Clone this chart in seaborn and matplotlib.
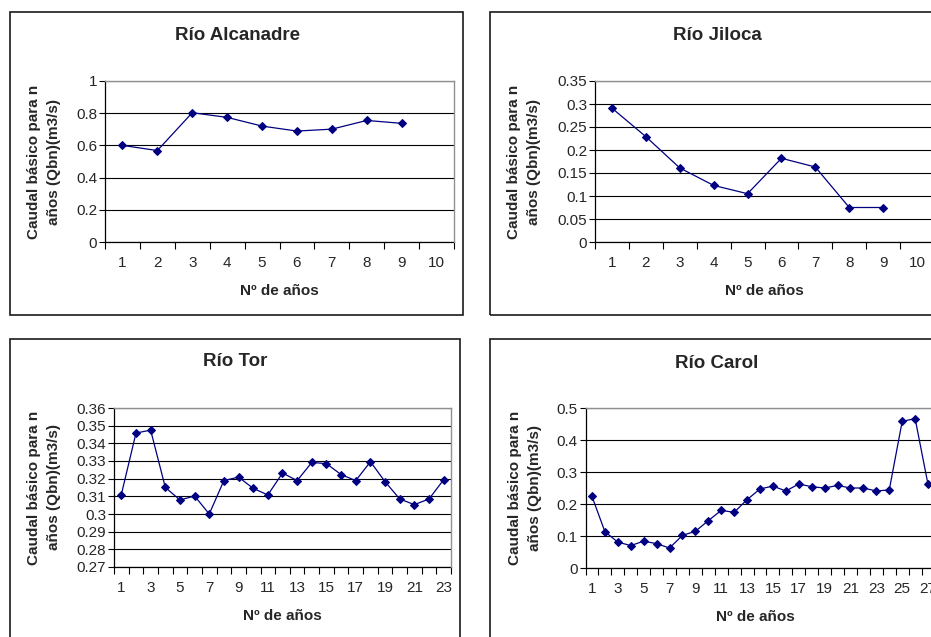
import matplotlib
matplotlib.use("Agg")
import numpy as np
import pandas as pd
import seaborn as sns
import matplotlib.pyplot as plt
from matplotlib.ticker import FixedLocator, FuncFormatter, NullFormatter
from matplotlib.patches import Rectangle

# ---------------- data ----------------
titles = ["Río Alcanadre", "Río Jiloca", "Río Tor", "Río Carol"]
ylabel_text = "Caudal básico para n\naños (Qbn)(m3/s)"
xlabel_text = "Nº de años"

alcanadre = [0.600, 0.568, 0.803, 0.774, 0.720, 0.689, 0.701, 0.755, 0.737]
jiloca = [0.291, 0.229, 0.161, 0.123, 0.105, 0.182, 0.163, 0.075, 0.075]
tor = [0.311, 0.3458, 0.3475, 0.3151, 0.3079, 0.3102, 0.300, 0.3189, 0.3209,
       0.3145, 0.3108, 0.3232, 0.3189, 0.3292, 0.3285, 0.3223, 0.3189, 0.3296,
       0.3183, 0.3085, 0.3053, 0.3085, 0.3194]
carol = [0.224, 0.1135, 0.081, 0.070, 0.084, 0.076, 0.0625, 0.102, 0.1146,
         0.148, 0.180, 0.174, 0.2135, 0.247, 0.256, 0.2406, 0.2625, 0.254,
         0.250, 0.258, 0.250, 0.250, 0.2406, 0.244, 0.458, 0.467, 0.261]

n_categories = [10, 10, 23, 27]
x_label_ticks = [list(range(1, 11)), list(range(1, 11)),
                 list(range(1, 24, 2)), list(range(1, 28, 2))]
y_ticks = [[0, 0.2, 0.4, 0.6, 0.8, 1.0],
           [0, 0.05, 0.1, 0.15, 0.2, 0.25, 0.3, 0.35],
           [0.27, 0.28, 0.29, 0.30, 0.31, 0.32, 0.33, 0.34, 0.35, 0.36],
           [0, 0.1, 0.2, 0.3, 0.4, 0.5]]
series = [alcanadre, jiloca, tor, carol]

# ---------------- style ----------------
sns.set_style("white")
plt.rcParams["font.family"] = ["Liberation Sans", "DejaVu Sans"]

W, H = 931, 637
fig = plt.figure(figsize=(W / 100, H / 100), dpi=100)
fig.patch.set_facecolor("white")


def px_axes(l, t, r, b):
    return fig.add_axes([l / W, 1 - b / H, (r - l) / W, (b - t) / H])


def px(x, y):
    return x / W, 1 - y / H


# frames (left, top, right, bottom) in px
frames = [(10, 12, 463, 315), (490, 12, 960, 315),
          (10, 339, 460, 660), (490, 339, 960, 660)]
for l, t, r, b in frames:
    fig.patches.append(Rectangle(px(l, b), (r - l) / W, (b - t) / H,
                                 transform=fig.transFigure, fill=False,
                                 edgecolor="#1a1a1a", linewidth=1.2))

axes_px = [(105, 81, 454, 242), (595, 81, 934, 242),
           (114, 408, 451, 567), (585.5, 408, 934.5, 568)]
title_pos = [(237, 35), (717, 35), (235, 362), (717, 363)]
ylab_x = [44, 524, 44, 525]

for i in range(4):
    l, t, r, b = axes_px[i]
    ax = px_axes(l, t, r, b)
    vals = series[i]
    df = pd.DataFrame({"n": np.arange(1, len(vals) + 1), "q": vals})
    sns.lineplot(data=df, x="n", y="q", ax=ax, color="#000080",
                 marker="D", markersize=4.2, markeredgecolor="#000080",
                 linewidth=0.9, zorder=5)
    nc = n_categories[i]
    ax.set_xlim(0.5, nc + 0.5)
    yt = y_ticks[i]
    ax.set_ylim(yt[0], yt[-1])
    ax.yaxis.set_major_locator(FixedLocator(yt))
    ax.yaxis.set_major_formatter(FuncFormatter(lambda v, p: f"{round(v, 4):g}"))
    ax.xaxis.set_major_locator(FixedLocator(x_label_ticks[i]))
    ax.xaxis.set_major_formatter(FuncFormatter(lambda v, p: f"{int(round(v))}"))
    ax.xaxis.set_minor_locator(FixedLocator(np.arange(0.5, nc + 1, 1.0)))
    ax.xaxis.set_minor_formatter(NullFormatter())
    ax.tick_params(axis="x", which="major", length=0, pad=10, labelsize=11)
    ax.tick_params(axis="x", which="minor", length=5, width=0.8,
                   direction="out", color="black", bottom=True)
    ax.tick_params(axis="y", which="major", length=4, width=0.8,
                   direction="out", color="black", pad=1.5, labelsize=11,
                   left=True)
    ax.grid(axis="y", color="black", linewidth=0.8)
    ax.grid(axis="x", visible=False)
    for s in ["top", "right"]:
        ax.spines[s].set_color("#909090")
        ax.spines[s].set_linewidth(1.0)
        ax.spines[s].set_zorder(3)
    for s in ["left", "bottom"]:
        ax.spines[s].set_color("black")
        ax.spines[s].set_linewidth(0.9)
    ax.set_xlabel("")
    ax.set_ylabel("")
    ax.set_facecolor("white")

    # title
    tx, ty = title_pos[i]
    fig.text(*px(tx, ty), titles[i], ha="center", va="center",
             fontsize=13.5, fontweight="bold")
    # x label
    fig.text(*px((l + r) / 2 if i % 2 == 0 else (l + 339 / 2), b + 49),
             xlabel_text, ha="center", va="center", fontsize=11,
             fontweight="bold")
    # y label
    fig.text(*px(ylab_x[i], (t + b) / 2), ylabel_text, ha="center",
             va="center", rotation=90, fontsize=11, fontweight="bold",
             multialignment="center", linespacing=1.5)

fig.savefig("out.png", dpi=100, facecolor="white")
